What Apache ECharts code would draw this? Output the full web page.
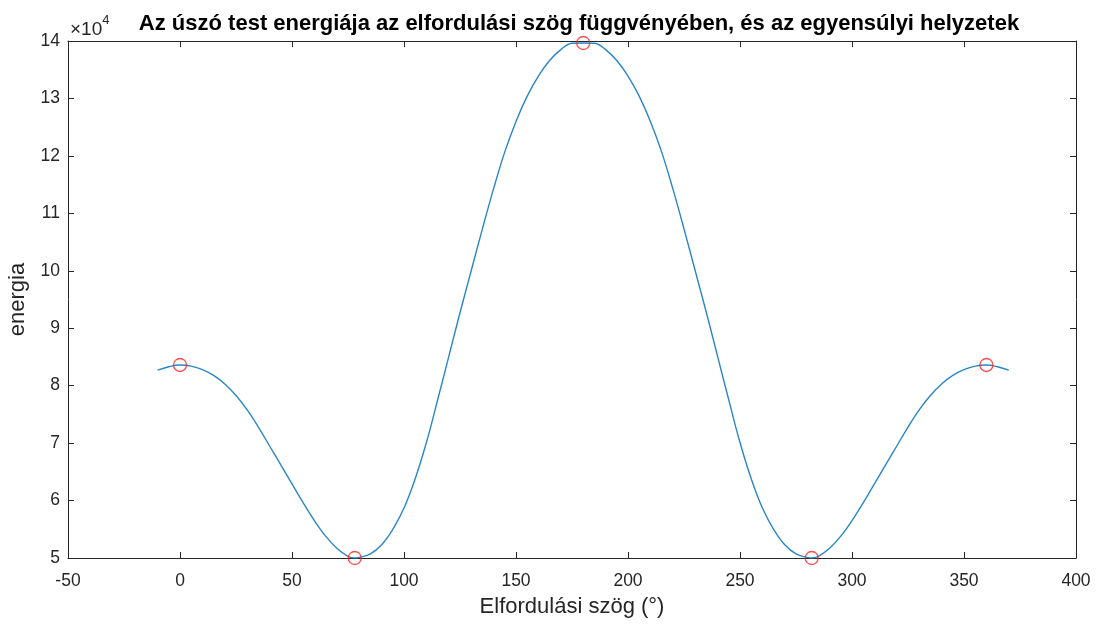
<!DOCTYPE html>
<html>
<head>
<meta charset="utf-8">
<script src="https://cdn.jsdelivr.net/npm/echarts@6/dist/echarts.min.js"></script>
<style>
html,body{margin:0;padding:0;background:#fff;}
#chart{width:1098px;height:626px;}
</style>
</head>
<body>
<div id="chart"></div>
<script>
// Rotation angle (degrees)
const angles = [-10,-5,0,5,10,15,20,25,30,35,40,45,50,55,60,65,70,75,78,80,85,90,95,100,105,110,115,120,125,130,135,140,145,150,155,160,165,170,175,180,
  185,190,195,200,205,210,215,220,225,230,235,240,245,250,255,260,265,270,275,280,282,285,290,295,300,305,310,315,320,325,330,335,340,345,350,355,360,365,370];
// Energy values
const energy = [82700,83300,83600,83400,82800,81800,80300,78300,75800,72800,69500,66200,62900,59600,56500,53800,51700,50300,50000,50100,50700,52300,55000,58700,63800,70100,77500,85100,92700,100000,107300,114300,120700,126000,130400,133900,136600,138500,139600,139650,
  139600,138500,136600,133900,130400,126000,120700,114300,107300,100000,92700,85100,77500,70100,63800,58700,55000,52300,50700,50100,50000,50300,51700,53800,56500,59600,62900,66200,69500,72800,75800,78300,80300,81800,82800,83400,83600,83300,82700];
// Equilibrium positions
const eqAngles = [0,78,180,282,360];
const eqEnergy = [83600,50000,139650,50000,83600];
// Tick settings
const xTicks = {min:-50,max:400,interval:50};
const yTicks = {min:50000,max:140000,interval:10000};

const titleText = 'Az úszó test energiája az elfordulási szög függvényében, és az egyensúlyi helyzetek';
const xName = 'Elfordulási szög (°)';
const yName = 'energia';

const axisColor = '#262626';
const font = 'Liberation Sans, Arial, Helvetica, sans-serif';

const chart = echarts.init(document.getElementById('chart'), null, {renderer:'canvas'});
const lineData = angles.map((a,i)=>[a,energy[i]]);
const eqData = eqAngles.map((a,i)=>[a,eqEnergy[i]]);

const baseAxis = {
  axisLine:{show:true,onZero:false,lineStyle:{color:axisColor,width:1}},
  axisTick:{show:true,inside:true,length:6,lineStyle:{color:axisColor,width:1}},
  splitLine:{show:false},
};

chart.setOption({
  animation:false,
  backgroundColor:'#fff',
  title:{
    text:titleText,
    left:574, top:8, textAlign:'center',
    textStyle:{fontFamily:font,fontSize:22,fontWeight:'bold',color:'#000'}
  },
  graphic:[{
    type:'text', left:70, top:14,
    style:{
      text:'{a|×10}{b|4}',
      rich:{
        a:{fontFamily:font,fontSize:19,fill:axisColor,padding:[6,0,0,0]},
        b:{fontFamily:font,fontSize:13,fill:axisColor,verticalAlign:'top',padding:[0,0,10,0]}
      }
    }
  }],
  grid:{left:68,right:22,top:41,bottom:68,containLabel:false,outerBoundsMode:'none'},
  xAxis:[
    Object.assign({},baseAxis,{
      type:'value',position:'bottom',...xTicks,
      name:xName,nameLocation:'middle',nameGap:38,
      nameTextStyle:{fontFamily:font,fontSize:22,color:axisColor},
      axisLabel:{fontFamily:font,fontSize:17.5,color:axisColor,margin:14}
    }),
    Object.assign({},baseAxis,{
      type:'value',position:'top',...xTicks,axisLabel:{show:false}
    })
  ],
  yAxis:[
    Object.assign({},baseAxis,{
      type:'value',position:'left',...yTicks,
      name:yName,nameLocation:'middle',nameGap:39,
      nameTextStyle:{fontFamily:font,fontSize:22,color:axisColor},
      axisLabel:{fontFamily:font,fontSize:17.5,color:axisColor,margin:8,
        formatter:v=>String(v/10000)}
    }),
    Object.assign({},baseAxis,{
      type:'value',position:'right',...yTicks,axisLabel:{show:false}
    })
  ],
  series:[
    {
      type:'line',data:lineData,xAxisIndex:0,yAxisIndex:0,
      showSymbol:false,smooth:0.4,
      lineStyle:{color:'#2a86c8',width:1.4},
      z:2
    },
    {
      type:'scatter',data:eqData,xAxisIndex:0,yAxisIndex:0,
      symbol:'circle',symbolSize:13,
      itemStyle:{color:'rgba(0,0,0,0)',borderColor:'#ff2020',borderWidth:1.3},
      z:3
    }
  ]
});
</script>
</body>
</html>
